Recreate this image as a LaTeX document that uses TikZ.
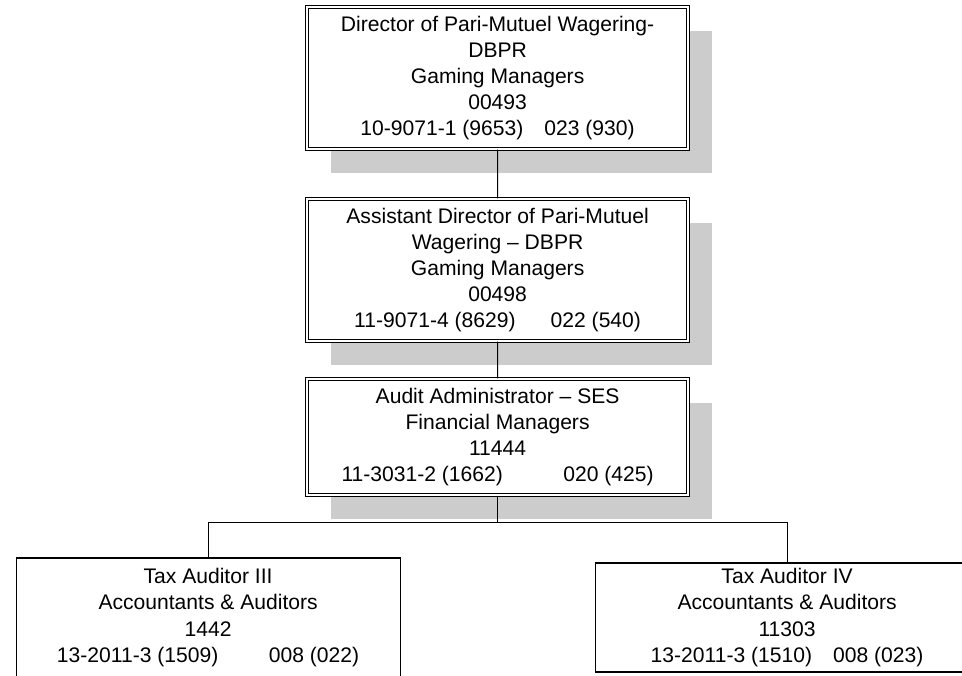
\documentclass[tikz,border=0pt]{standalone}
\usepackage{fontspec}
\setmainfont{Liberation Sans}
\usepackage{tikz}
\usetikzlibrary{shadows}

\tikzset{
  mgr box/.style={draw, double, line width=0.8pt, double distance=1.4pt, fill=white,
    minimum width=9.52cm, minimum height=3.55cm,
    general shadow={fill=black!20, shadow xshift=0.6cm, shadow yshift=-0.6cm}},
  staff box/.style={draw, line width=0.8pt, fill=white, minimum width=9.6cm}
}

\begin{document}
\begin{tikzpicture}[every node/.style={font=\fontsize{15pt}{18.6pt}\selectfont, align=center}]
\clip (0,0) rectangle (24.05,-16.875);
\node (dir) [mgr box] at (12.44,-1.95) {Director of Pari-Mutuel Wagering-\\DBPR\\Gaming Managers\\00493\\10-9071-1 (9653)\hspace{15pt}023 (930)}
    [level 1/.style={level distance=4.8cm},
     level 2/.style={level distance=4.175cm},
     level 3/.style={level distance=4.5125cm, sibling distance=14.475cm,
       edge from parent path={(\tikzparentnode.south) -- ++(0,-0.675) -| (\tikzchildnode.north)}},
     edge from parent/.style={draw, line width=0.6pt}]
    child {node (asst) [mgr box] {Assistant Director of Pari-Mutuel\\Wagering -- DBPR\\Gaming Managers\\00498\\11-9071-4 (8629)\hspace{25pt}022 (540)}
    child {node (audit) [mgr box, minimum height=2.9cm] {Audit Administrator -- SES\\Financial Managers\\11444\\11-3031-2 (1662)\hspace{43pt}020 (425)}
    child {node (tax3) [staff box, minimum height=2.975cm] {Tax Auditor III\\Accountants \& Auditors\\1442\\13-2011-3 (1509)\hspace{36pt}008 (022)}}
    child {node (tax4) [staff box, minimum height=2.725cm] {Tax Auditor IV\\Accountants \& Auditors\\11303\\13-2011-3 (1510)\hspace{15pt}008 (023)}}}};
\end{tikzpicture}
\end{document}
